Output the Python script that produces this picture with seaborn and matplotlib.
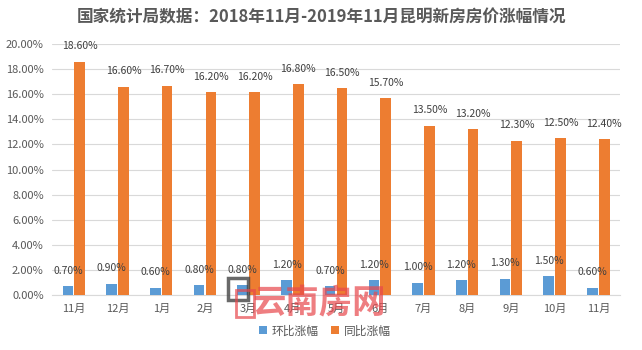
import matplotlib
matplotlib.use("Agg")
import matplotlib.pyplot as plt
import matplotlib.ticker as mticker
import matplotlib.patches as mpatches
import seaborn as sns
import pandas as pd

months = ["11月", "12月", "1月", "2月", "3月", "4月", "5月", "6月", "7月", "8月", "9月", "10月", "11月"]
mom = [0.70, 0.90, 0.60, 0.80, 0.80, 1.20, 0.70, 1.20, 1.00, 1.20, 1.30, 1.50, 0.60]
yoy = [18.60, 16.60, 16.70, 16.20, 16.20, 16.80, 16.50, 15.70, 13.50, 13.20, 12.30, 12.50, 12.40]
series = ["环比涨幅", "同比涨幅"]
colors = ["#5B9BD5", "#ED7D31"]

# unique x keys so the repeated "11月" stays two categories
keys = [f"{i}_{m}" for i, m in enumerate(months)]
df = pd.DataFrame({
    "key": keys * 2,
    "val": mom + yoy,
    "series": [series[0]] * len(months) + [series[1]] * len(months),
})

sns.set_style("white")
plt.rcParams["font.family"] = ["Noto Sans CJK SC", "DejaVu Sans"]

fig = plt.figure(figsize=(6.42, 3.5), dpi=100)
ax = fig.add_axes([0.081, 0.157, 0.885, 0.717])

sns.barplot(data=df, x="key", y="val", hue="series", palette=colors,
            saturation=1, width=0.54, gap=0.1, linewidth=0,
            ax=ax, legend=True, zorder=3)

ax.set_ylim(0, 20)
ax.yaxis.set_major_locator(mticker.MultipleLocator(2))
ax.yaxis.set_major_formatter(mticker.FuncFormatter(lambda v, p: f"{v:.2f}%"))
ax.set_xticks(range(len(months)))
ax.set_xticklabels(months)
ax.set_xlim(-0.5, len(months) - 0.5)
ax.grid(axis="y", color="#D9D9D9", linewidth=0.8, zorder=0)
ax.set_xlabel("")
ax.set_ylabel("")
for s in ["top", "right", "left"]:
    ax.spines[s].set_visible(False)
ax.spines["bottom"].set_color("#D9D9D9")
ax.tick_params(axis="both", length=0, labelsize=8, colors="#595959", pad=6)

for cont in ax.containers:
    for bar in cont:
        h = bar.get_height()
        ax.annotate(f"{h:.2f}%", (bar.get_x() + bar.get_width() / 2, h),
                    xytext=(0, 11), textcoords="offset points",
                    ha="center", va="center", fontsize=7.5, color="#404040")

ax.legend(loc="upper center", bbox_to_anchor=(0.48, -0.075), ncol=2, frameon=False,
          fontsize=8.5, handlelength=0.7, handleheight=0.7, columnspacing=1.0,
          handletextpad=0.4, labelcolor="#595959")

fig.suptitle("国家统计局数据：2018年11月-2019年11月昆明新房房价涨幅情况",
             y=0.975, fontsize=12, fontweight="bold", color="#595959")

# watermark logo (overlays the axis labels, as in the source image)
fig.patches.append(mpatches.Rectangle((0.355, 0.143), 0.031, 0.063, transform=fig.transFigure,
                                      fill=False, edgecolor="#444444", linewidth=2.5, alpha=0.8))
fig.patches.append(mpatches.Rectangle((0.368, 0.094), 0.028, 0.077, transform=fig.transFigure,
                                      fill=False, edgecolor="#E8474C", linewidth=2, alpha=0.7))
fig.text(0.497, 0.134, "云南房网", fontsize=24, color="#E8474C", alpha=0.7,
         ha="center", va="center", fontweight="bold", zorder=10)

fig.savefig("out.png", dpi=100)
